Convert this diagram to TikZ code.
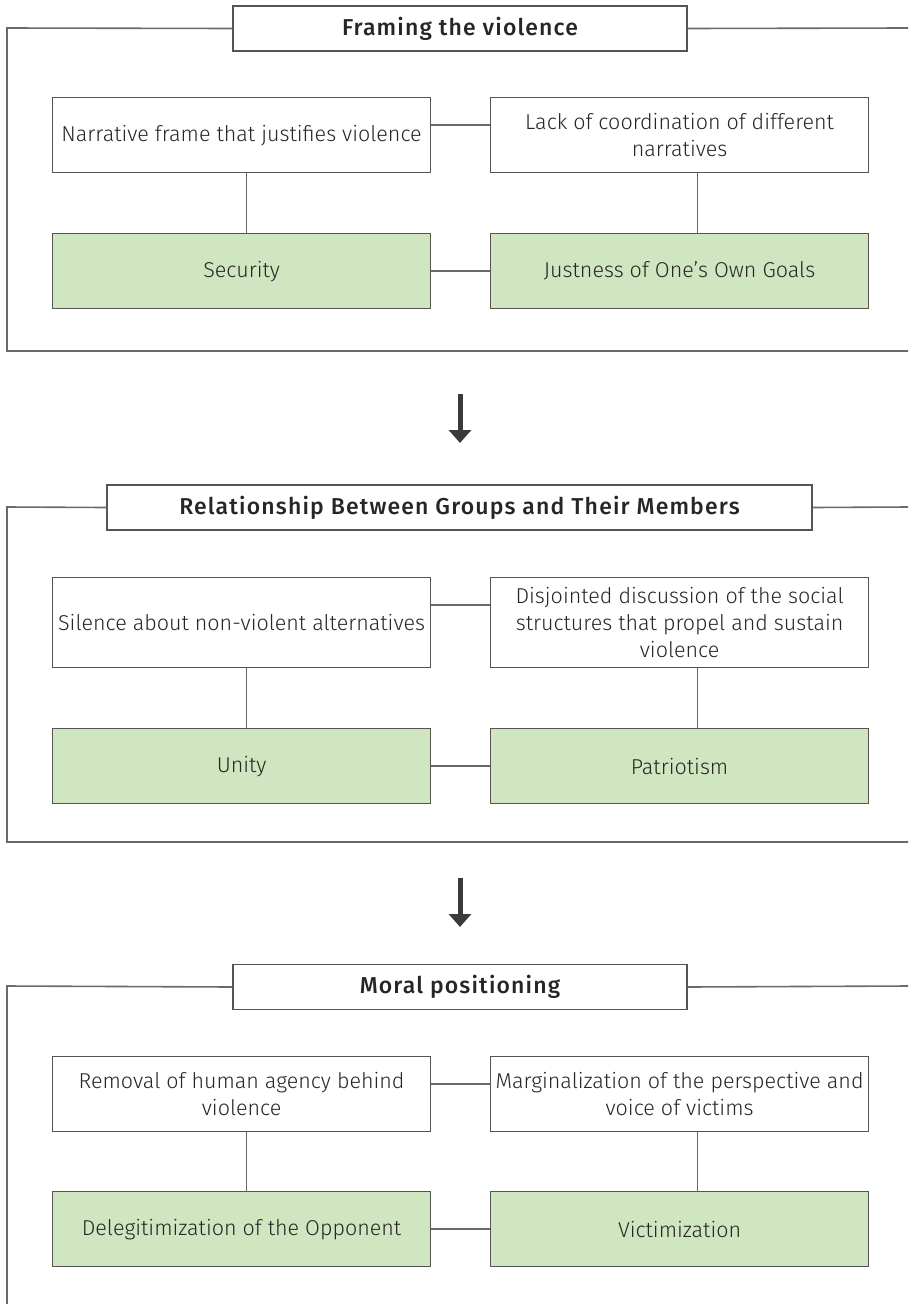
\documentclass[tikz,border=0pt]{standalone}
\usepackage{fontspec}
\setmainfont{Fira Sans}[UprightFont={* Light},BoldFont={* Medium}]
\newfontfamily\ttlfont{Fira Sans}[UprightFont={* Medium},LetterSpace=5]
\usetikzlibrary{arrows.meta}
\definecolor{linec}{HTML}{6A6A6A}
\definecolor{boxc}{HTML}{555555}
\definecolor{greenf}{HTML}{CFE6C0}
\definecolor{txt}{HTML}{262626}
\definecolor{arrowc}{HTML}{3A3A3A}
\begin{document}
\begin{tikzpicture}[x=1pt,y=-1pt,
  frame/.style={draw=linec, line width=1.6pt},
  conn/.style={draw=linec, line width=1.4pt},
  wbox/.style={draw=boxc, line width=1.2pt, fill=white, minimum width=378pt,
    inner sep=0pt, align=center, font=\fontsize{21.5}{27}\selectfont, text=txt, anchor=north west},
  gbox/.style={wbox, fill=greenf, minimum height=75pt},
  titlebox/.style={draw=boxc, line width=1.2pt, fill=white, minimum height=45pt,
    inner sep=0pt, font=\ttlfont\fontsize{23}{28}\selectfont, text=txt},
  bigarrow/.style={draw=arrowc, line width=5pt, -{Triangle[width=22pt,length=13pt]}}
]
\useasboundingbox (0,0) rectangle (908,1304);

% ---------- Group 1 ----------
\coordinate (f1a) at (7,28);
\coordinate (f1b) at (7,351);
\coordinate (f1c) at (908,351);
\coordinate (f1d) at (908,28);
\node[titlebox, minimum width=454pt] (t1) at (460,28.5) {Framing the violence};
\draw[frame] (t1.west) -- (f1a) -- (f1b) -- (f1c);
\draw[frame] (t1.east) -- (f1d);
\node[wbox, minimum height=75pt] (a1) at (52,97) {Narrative frame that justifies violence};
\node[wbox, minimum height=75pt] (b1) at (490,97) {Lack of coordination of different\\narratives};
\node[gbox] (c1) at (52,233) {Security};
\node[gbox] (d1) at (490,233) {Justness of One’s Own Goals};
\draw[conn] ([yshift=-28pt]a1.north east) -- ([yshift=-28pt]b1.north west);
\draw[conn] ([xshift=5pt]a1.south) -- ([xshift=5pt]c1.north);
\draw[conn] ([xshift=18pt]b1.south) -- ([xshift=18pt]d1.north);
\draw[conn] (c1.east) -- (d1.west);

% ---------- Arrow 1 ----------
\coordinate (ar1s) at (460,394);
\coordinate (ar1e) at (460,443);
\draw[bigarrow] (ar1s) -- (ar1e);

% ---------- Group 2 ----------
\coordinate (f2a) at (7,507);
\coordinate (f2b) at (7,842);
\coordinate (f2c) at (908,842);
\coordinate (f2d) at (908,507);
\node[titlebox, minimum width=705pt] (t2) at (459.5,507.5) {Relationship Between Groups and Their Members};
\draw[frame] (t2.west) -- (f2a) -- (f2b) -- (f2c);
\draw[frame] (t2.east) -- (f2d);
\node[wbox, minimum height=90pt] (a2) at (52,577) {Silence about non-violent alternatives};
\node[wbox, minimum height=90pt] (b2) at (490,577) {Disjointed discussion of the social\\structures that propel and sustain\\violence};
\node[gbox] (c2) at (52,728) {Unity};
\node[gbox] (d2) at (490,728) {Patriotism};
\draw[conn] ([yshift=-28pt]a2.north east) -- ([yshift=-28pt]b2.north west);
\draw[conn] ([xshift=5pt]a2.south) -- ([xshift=5pt]c2.north);
\draw[conn] ([xshift=18pt]b2.south) -- ([xshift=18pt]d2.north);
\draw[conn] (c2.east) -- (d2.west);

% ---------- Arrow 2 ----------
\coordinate (ar2s) at (460,878);
\coordinate (ar2e) at (460,927);
\draw[bigarrow] (ar2s) -- (ar2e);

% ---------- Group 3 ----------
\coordinate (f3a) at (7,986);
\coordinate (f3b) at (7,1304);
\coordinate (f3d) at (908,986);
\node[titlebox, minimum width=454pt] (t3) at (460,987) {Moral positioning};
\draw[frame] (t3.west) -- (f3a) -- (f3b);
\draw[frame] (t3.east) -- (f3d);
\node[wbox, minimum height=75pt] (a3) at (52,1056) {Removal of human agency behind\\violence};
\node[wbox, minimum height=75pt] (b3) at (490,1056) {Marginalization of the perspective and\\voice of victims};
\node[gbox] (c3) at (52,1191) {Delegitimization of the Opponent};
\node[gbox] (d3) at (490,1191) {Victimization};
\draw[conn] ([yshift=-28pt]a3.north east) -- ([yshift=-28pt]b3.north west);
\draw[conn] ([xshift=5pt]a3.south) -- ([xshift=5pt]c3.north);
\draw[conn] ([xshift=18pt]b3.south) -- ([xshift=18pt]d3.north);
\draw[conn] (c3.east) -- (d3.west);
\end{tikzpicture}
\end{document}
